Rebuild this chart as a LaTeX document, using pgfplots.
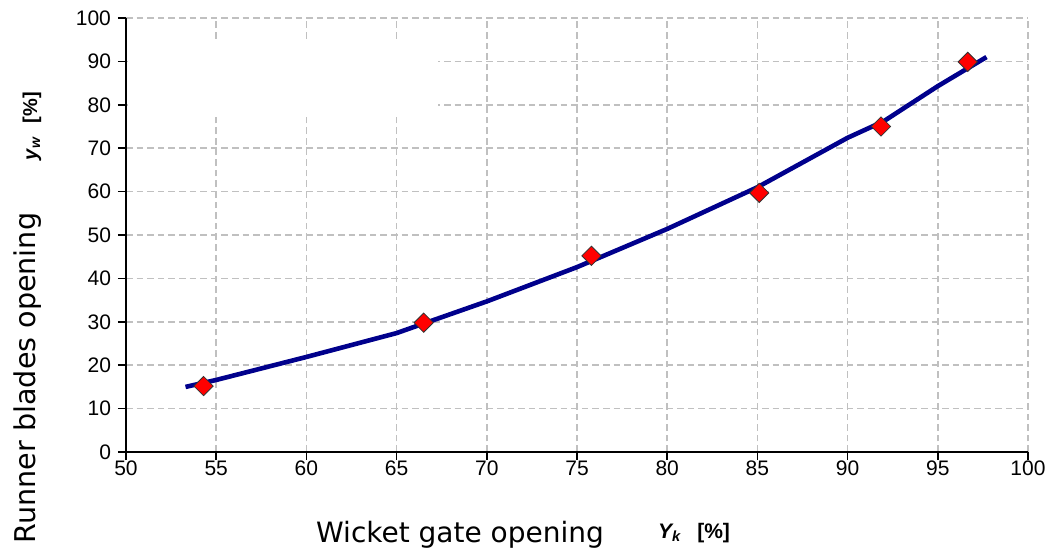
\documentclass[border=0pt]{standalone}
\usepackage{pgfplots}
\pgfplotsset{compat=1.18}
\usepackage{fontspec}
\setmainfont{Liberation Sans}
\newfontfamily\labelfont{DejaVu Sans}
\definecolor{navyline}{RGB}{0,0,140}
\definecolor{gridgray}{RGB}{192,192,192}
\begin{document}
\begin{tikzpicture}
\useasboundingbox (-63pt,-50.5pt) rectangle (468.5pt,226pt);
\begin{axis}[
 at={(0,0)}, anchor=south west,
 scale only axis, width=451pt, height=217pt,
 xmin=50, xmax=100, ymin=0, ymax=100,
 xtick={50,55,...,100}, ytick={0,10,...,100},
 axis lines=left, axis line style={-, line width=1pt, black},
 tick align=outside, major tick length=4pt, tick style={line width=0.8pt, black},
 grid=major, major grid style={gridgray, line width=0.8pt, dash pattern=on 3.3pt off 2pt},
 tick label style={font=\fontsize{10.5}{12}\selectfont},
 /pgf/number format/assume math mode=true,
 xticklabel style={yshift=3pt},
 yticklabel style={xshift=0pt},
]
\fill[white] (axis cs:50.1,77.5) rectangle (axis cs:67.3,95);
\addplot[only marks, mark=square*, mark size=3.4pt, mark options={rotate=45, fill=red, draw=black!80, line width=0.4pt}] coordinates {(54.3,15.2)(66.5,29.8)(75.8,45.2)(85.1,59.7)(91.85,75.0)(96.66,89.9)};
\addplot[navyline, line width=2.3pt, mark=none] coordinates {(53.3,15.0)(55,16.6)(60,21.9)(65,27.4)(66.5,29.6)(70,34.7)(75,42.6)(80,51.4)(85,61.0)(90,72.4)(92,76.2)(95,84.3)(97.7,91.0)};
\end{axis}
\node[font=\labelfont\fontsize{14}{16}\selectfont] at (167pt,-41.5pt) {Wicket gate opening};
\node[font=\bfseries\fontsize{10.5}{12}\selectfont] at (284pt,-40.5pt) {{\itshape Y}\textsubscript{\itshape k}\hspace{8pt}[\%]};
\node[rotate=90, font=\labelfont\fontsize{14.3}{16}\selectfont] at (-49pt,37pt) {Runner blades opening};
\node[rotate=90, font=\bfseries\fontsize{10}{12}\selectfont] at (-47pt,163pt) {{\itshape y}\textsubscript{\itshape w}\hspace{7pt}[\%]};
\end{tikzpicture}
\end{document}
